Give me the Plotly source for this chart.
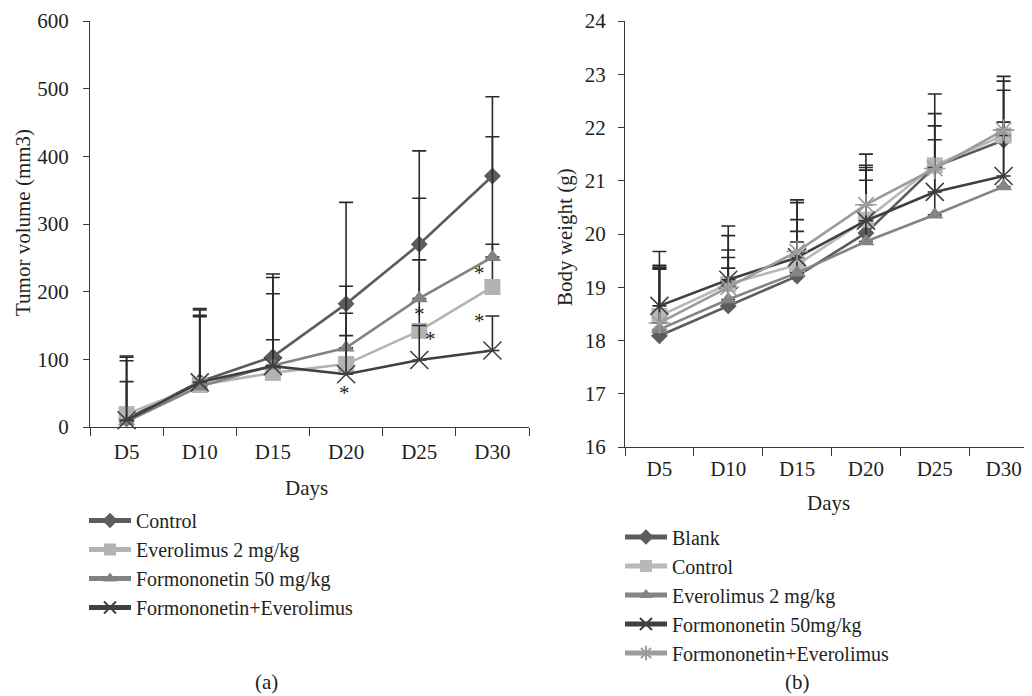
import plotly.graph_objects as go

# ---------------- data ----------------
days = ["D5", "D10", "D15", "D20", "D25", "D30"]

# panel (a) tumor volume (mm3): means and upper error-bar ends
tv_control = [12, 67, 104, 182, 270, 371]
tv_control_up = [105, 175, 226, 332, 408, 488]
tv_everolimus = [19, 62, 80, 93, 142, 207]
tv_everolimus_up = [98, 165, 197, 168, 247, 270]
tv_formononetin = [8, 60, 91, 117, 190, 251]
tv_formononetin_up = [103, 173, 221, 208, 338, 429]
tv_combo = [10, 66, 90, 78, 99, 113]
tv_combo_up = [67, 163, 129, 135, 150, 164]

# significance marks on panel (a): (day, y value)
star_days = ["D20", "D25", "D25", "D30", "D30"]
star_vals = [57, 174, 137, 235, 164]

# panel (b) body weight (g)
bw_blank = [18.09, 18.65, 19.21, 20.02, 21.26, 21.76]
bw_blank_up = [19.36, 19.36, 19.85, 21.20, 22.03, 22.70]
bw_control = [18.46, 19.06, 19.42, 20.27, 21.29, 21.85]
bw_control_up = [19.41, 19.97, 20.27, 21.29, 22.63, 22.96]
bw_everolimus = [18.21, 18.77, 19.27, 19.86, 20.36, 20.89]
bw_everolimus_up = [19.34, 19.56, 20.05, 21.01, 21.25, 21.85]
bw_formononetin = [18.65, 19.14, 19.56, 20.25, 20.79, 21.09]
bw_formononetin_up = [19.67, 20.15, 20.59, 21.25, 21.77, 22.10]
bw_combo = [18.33, 19.00, 19.67, 20.55, 21.23, 21.95]
bw_combo_up = [19.38, 19.70, 20.64, 21.50, 22.26, 22.87]

# ---------------- styling ----------------
W, H = 1032, 696
OFF = 8  # page body margin
FONT = "Liberation Serif"
TXT = "#231f20"
ERR = "#2a2a2a"
FS = 21


def px_x(p):
    return (p - OFF) / W


def px_y(p):
    return 1 - (p - OFF) / H


fig = go.Figure()


def add_series(x, y, up, name, color, symbol, size, xa, ya, legend, mline=None):
    err = [u - v for u, v in zip(up, y)]
    marker = dict(symbol=symbol, size=size, color=color)
    if mline is not None:
        marker["line"] = dict(color=color, width=mline)
    fig.add_trace(go.Scatter(
        x=x, y=y, name=name, mode="lines+markers",
        line=dict(color=color, width=2.6),
        marker=marker,
        error_y=dict(type="data", array=err, arrayminus=[0] * len(err),
                     symmetric=False, color=ERR, thickness=1.6, width=7),
        xaxis=xa, yaxis=ya, legend=legend, cliponaxis=False,
    ))


# panel (a)
add_series(days, tv_control, tv_control_up, "Control", "#5c5c5c", "diamond", 13, "x", "y", "legend")
add_series(days, tv_everolimus, tv_everolimus_up, "Everolimus 2 mg/kg", "#b3b3b3", "square", 16, "x", "y", "legend")
add_series(days, tv_formononetin, tv_formononetin_up, "Formononetin 50 mg/kg", "#828282", "triangle-up", 15, "x", "y", "legend")
add_series(days, tv_combo, tv_combo_up, "Formononetin+Everolimus", "#404040", "x-thin-open", 18, "x", "y", "legend", mline=1.6)

# panel (b)
add_series(days, bw_blank, bw_blank_up, "Blank", "#5c5c5c", "diamond", 13, "x2", "y2", "legend2")
add_series(days, bw_control, bw_control_up, "Control", "#b8b8b8", "square", 16, "x2", "y2", "legend2")
add_series(days, bw_everolimus, bw_everolimus_up, "Everolimus 2 mg/kg", "#848484", "triangle-up", 15, "x2", "y2", "legend2")
add_series(days, bw_formononetin, bw_formononetin_up, "Formononetin 50mg/kg", "#404040", "x-thin-open", 18, "x2", "y2", "legend2", mline=1.6)
add_series(days, bw_combo, bw_combo_up, "Formononetin+Everolimus", "#9c9c9c", "asterisk-open", 18, "x2", "y2", "legend2", mline=1.6)

axis_common = dict(
    showline=True, linecolor="#3a3a3a", linewidth=1.2, showgrid=False, zeroline=False,
    ticks="outside", tickcolor="#3a3a3a", tickwidth=1.2, ticklabeloverflow="allow",
    tickfont=dict(family=FONT, size=FS, color=TXT),
)

TOP = 21

fig.update_layout(
    width=W, height=H, paper_bgcolor="white", plot_bgcolor="white",
    margin=dict(l=0, r=0, t=0, b=0, pad=0, autoexpand=False),
    font=dict(family=FONT, size=FS, color=TXT),
    xaxis=dict(domain=[px_x(90), px_x(529)], anchor="y", type="category",
               categoryorder="array", categoryarray=days, range=[-0.5, 5.5],
               tickson="boundaries", ticklen=8, ticklabelstandoff=6, **axis_common),
    yaxis=dict(domain=[px_y(427), px_y(TOP)], anchor="x", range=[0, 600], dtick=100,
               ticklen=6, ticklabelstandoff=10, **axis_common),
    xaxis2=dict(domain=[px_x(625), px_x(1038)], anchor="y2", type="category",
                categoryorder="array", categoryarray=days, range=[-0.5, 5.5],
                tickson="boundaries", ticklen=8, ticklabelstandoff=3, **axis_common),
    yaxis2=dict(domain=[px_y(447), px_y(TOP)], anchor="x2", range=[16, 24], dtick=1,
                ticklen=6, ticklabelstandoff=8, **axis_common),
    legend=dict(x=px_x(84), y=px_y(564), xanchor="left", yanchor="middle",
                bgcolor="rgba(0,0,0,0)", font=dict(family=FONT, size=20, color=TXT),
                itemwidth=42, itemsizing="constant", tracegroupgap=0),
    legend2=dict(x=px_x(620), y=px_y(595), xanchor="left", yanchor="middle",
                 bgcolor="rgba(0,0,0,0)", font=dict(family=FONT, size=20, color=TXT),
                 itemwidth=42, itemsizing="constant", tracegroupgap=0),
    showlegend=True,
)

annotations = []
star_shift = {0: -2, 1: 0, 2: 11, 3: -13, 4: -13}
for i, (d, v) in enumerate(zip(star_days, star_vals)):
    annotations.append(dict(x=d, y=v, xref="x", yref="y", text="*", showarrow=False,
                            xanchor="center", yanchor="middle",
                            xshift=star_shift[i], yshift=-5,
                            font=dict(family=FONT, size=FS, color=TXT)))


def label(xp, yp, text, angle=0):
    return dict(x=px_x(xp), y=px_y(yp), xref="paper", yref="paper", text=text,
                textangle=angle, showarrow=False, xanchor="center", yanchor="middle",
                font=dict(family=FONT, size=FS, color=TXT))


annotations += [
    label(23, 223, "Tumor volume (mm3)", -90),
    label(306, 488, "Days"),
    label(565, 237, "Body weight (g)", -90),
    label(828, 503, "Days"),
    label(266, 682, "(a)"),
    label(797, 682, "(b)"),
]
fig.update_layout(annotations=annotations)

fig.write_html("out.html")
